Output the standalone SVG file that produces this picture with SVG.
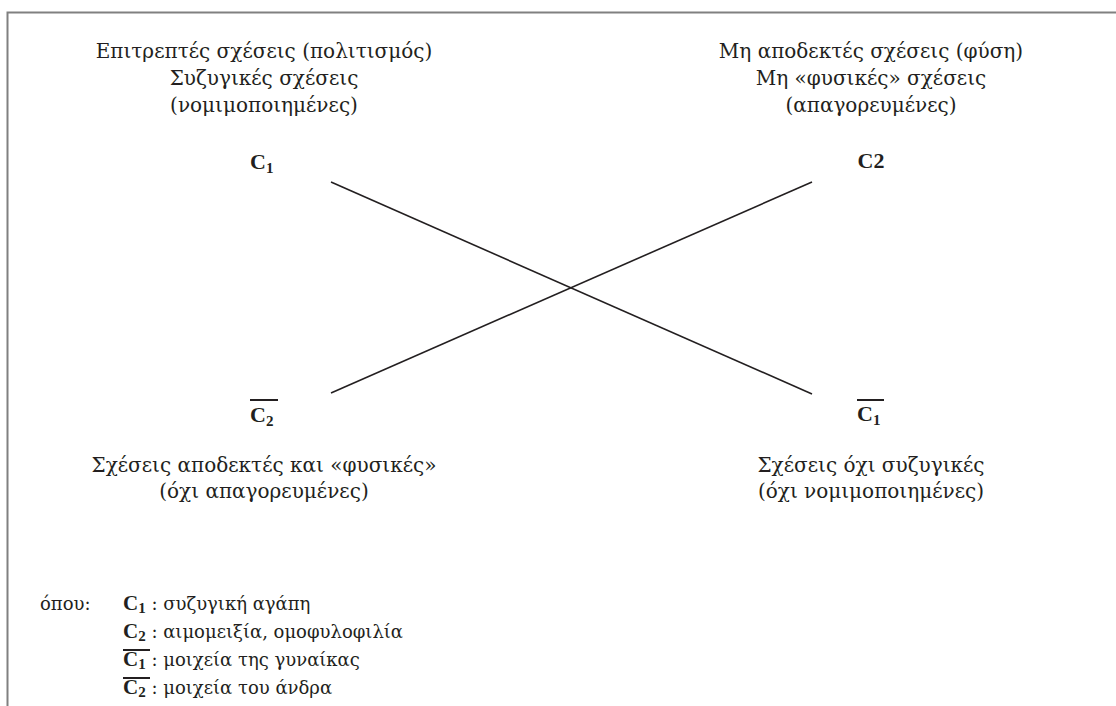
<svg xmlns="http://www.w3.org/2000/svg" width="1116" height="706" viewBox="0 0 1116 706">
<style>
.t{font-family:"DejaVu Serif","Liberation Serif",serif;font-size:20px;fill:#231f20;text-anchor:middle}
.b{font-family:"Liberation Serif","Times New Roman",serif;font-size:22px;font-weight:bold;fill:#231f20}
.sub{font-size:15px}
.lg{font-family:"DejaVu Serif","Liberation Serif",serif;font-size:18px;fill:#231f20}
.ln{stroke:#231f20;stroke-width:1.6;fill:none}
.ov{stroke:#231f20;stroke-width:2;fill:none}
</style>
<rect width="1116" height="706" fill="#fff"/>
<path d="M7.5 706 V12.5 H1116" stroke="#808080" stroke-width="2" fill="none"/>
<g id="connectors">
<line class="ln" x1="331" y1="182" x2="812" y2="394"/>
<line class="ln" x1="331" y1="393" x2="812" y2="182"/>
</g>
<g id="node-c1">
<text class="t" x="264" y="58">Επιτρεπτές σχέσεις (πολιτισμός)</text>
<text class="t" x="264" y="85">Συζυγικές σχέσεις</text>
<text class="t" x="264" y="112">(νομιμοποιημένες)</text>
<text class="b" x="250" y="169">C<tspan class="sub" dy="4">1</tspan></text>
</g>
<g id="node-c2">
<text class="t" x="871" y="58">Μη αποδεκτές σχέσεις (φύση)</text>
<text class="t" x="871" y="85">Μη «φυσικές» σχέσεις</text>
<text class="t" x="871" y="112">(απαγορευμένες)</text>
<text class="b" x="871" y="168" text-anchor="middle">C2</text>
</g>
<g id="node-not-c2">
<line class="ov" x1="250" y1="400" x2="278" y2="400"/>
<text class="b" x="250" y="422">C<tspan class="sub" dy="4">2</tspan></text>
<text class="t" x="264" y="472">Σχέσεις αποδεκτές και «φυσικές»</text>
<text class="t" x="264" y="498">(όχι απαγορευμένες)</text>
</g>
<g id="node-not-c1">
<line class="ov" x1="857" y1="400" x2="884" y2="400"/>
<text class="b" x="857" y="421">C<tspan class="sub" dy="4">1</tspan></text>
<text class="t" x="871" y="472">Σχέσεις όχι συζυγικές</text>
<text class="t" x="871" y="498">(όχι νομιμοποιημένες)</text>
</g>
<g id="legend">
<text class="lg" x="40" y="610">όπου:</text>
<text class="lg" x="123" y="610"><tspan class="b" style="font-size:21px">C</tspan><tspan class="b sub" dy="3">1</tspan><tspan dy="-3"> : συζυγική αγάπη</tspan></text>
<text class="lg" x="123" y="638"><tspan class="b" style="font-size:21px">C</tspan><tspan class="b sub" dy="3">2</tspan><tspan dy="-3"> : αιμομειξία, ομοφυλοφιλία</tspan></text>
<line class="ov" x1="123" y1="650" x2="150" y2="650"/>
<text class="lg" x="123" y="666"><tspan class="b" style="font-size:21px">C</tspan><tspan class="b sub" dy="3">1</tspan><tspan dy="-3"> : μοιχεία της γυναίκας</tspan></text>
<line class="ov" x1="123" y1="678" x2="150" y2="678"/>
<text class="lg" x="123" y="694"><tspan class="b" style="font-size:21px">C</tspan><tspan class="b sub" dy="3">2</tspan><tspan dy="-3"> : μοιχεία του άνδρα</tspan></text>
</g>
</svg>
